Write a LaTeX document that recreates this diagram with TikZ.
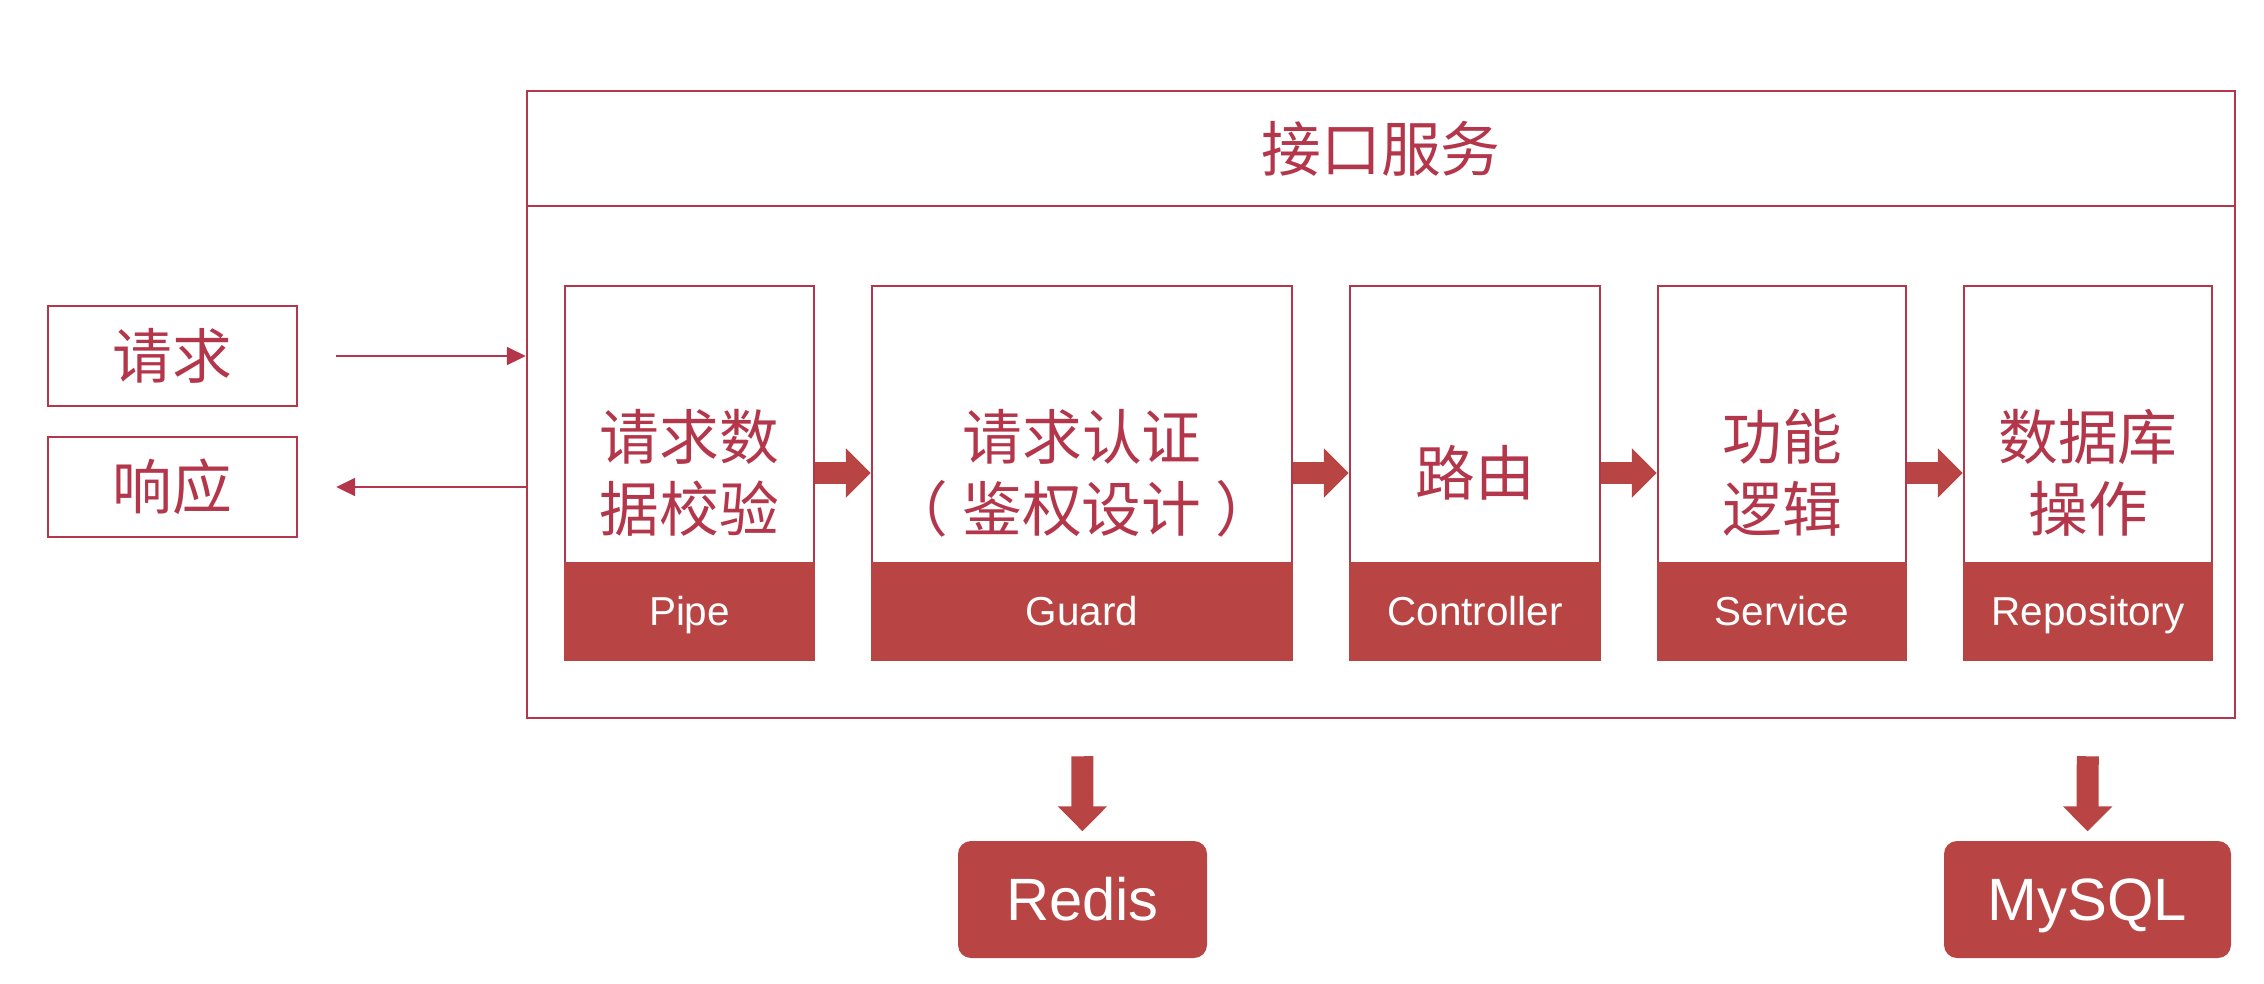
\documentclass[tikz,border=0pt]{standalone}
\usepackage{fontspec}
\setmainfont{Liberation Sans}
\newfontfamily\cjk{Noto Sans CJK SC}
\usetikzlibrary{arrows.meta}
\definecolor{brick}{HTML}{B84544}
\definecolor{crimson}{HTML}{B3364A}

\begin{document}
\begin{tikzpicture}[
        box/.style={
            draw=crimson,
            line width=0.7pt,
            text=crimson,
            align=center,
            font=\cjk\fontsize{17}{20.5}\selectfont
        },
        stage/.style={box, fill=white, minimum width=#1, minimum height=3.74cm},
        band/.style={
            draw=brick, fill=brick, line width=0.7pt,
            anchor=south, minimum width=#1, minimum height=0.97cm,
            text height=8.2pt, text depth=0pt,
            text=white, font=\fontsize{11.5}{13}\selectfont
        },
        store/.style={
            fill=brick, rounded corners=0.13cm,
            minimum width=#1, minimum height=1.17cm,
            text height=12.2pt, text depth=0pt,
            text=white, font=\fontsize{17}{20}\selectfont
        },
        arrow/.style={crimson, line width=0.6pt, -{Triangle[length=0.19cm,width=0.18cm]}},
        flow/.style={brick, line width=0.22cm, -{Triangle[length=0.25cm,width=0.48cm]}}
    ]
    \useasboundingbox (0,0) rectangle (22.64,-9.83);

    % =========================
    % Client side
    % =========================
    \node[box, minimum width=2.49cm, minimum height=1.0cm] (req)  at (1.725,-3.56) {请求};
    \node[box, minimum width=2.49cm, minimum height=1.0cm] (resp) at (1.725,-4.87) {响应};

    % =========================
    % Service frame
    % =========================
    \node[box, minimum width=17.08cm, minimum height=6.27cm] (svc) at (13.81,-4.045) {};
    \node[box, minimum width=17.08cm, minimum height=1.15cm, anchor=north] (title) at (svc.north) {接口服务};

    \draw[arrow] ([xshift=3.8mm]req.east) -- (req.east -| svc.west);
    \draw[arrow] (resp.east -| svc.west) -- ([xshift=3.8mm]resp.east);

    % =========================
    % Stages
    % =========================
    \node[stage=2.49cm] (pipe)  at (6.895,-4.73) {请求数\\据校验};
    \node[stage=4.20cm] (guard) at (10.82,-4.73) {请求认证\\（\hspace{1.4mm}鉴权设计\hspace{1.4mm}）};
    \node[stage=2.50cm] (ctrl)  at (14.75,-4.73) {路由};
    \node[stage=2.48cm] (srv)   at (17.82,-4.73) {功能\\逻辑};
    \node[stage=2.48cm] (repo)  at (20.88,-4.73) {数据库\\操作};

    \node[band=2.49cm] at (pipe.south)  {Pipe};
    \node[band=4.20cm] at (guard.south) {Guard};
    \node[band=2.50cm] at (ctrl.south)  {Controller};
    \node[band=2.48cm] at (srv.south)   {Service};
    \node[band=2.48cm] at (repo.south)  {Repository};

    \draw[flow] (pipe) -- (guard);
    \draw[flow] (guard) -- (ctrl);
    \draw[flow] (ctrl) -- (srv);
    \draw[flow] (srv) -- (repo);

    % =========================
    % Storage
    % =========================
    \node[store=2.49cm] (redis) at (10.825,-8.995) {Redis};
    \node[store=2.87cm] (mysql) at (20.875,-8.995) {MySQL};

    \draw[flow, shorten <=9.5mm, shorten >=0.9mm] (guard.south) -- (redis.north);
    \draw[flow, shorten <=9.5mm, shorten >=0.9mm] (repo.south) -- (mysql.north);

\end{tikzpicture}
\end{document}
